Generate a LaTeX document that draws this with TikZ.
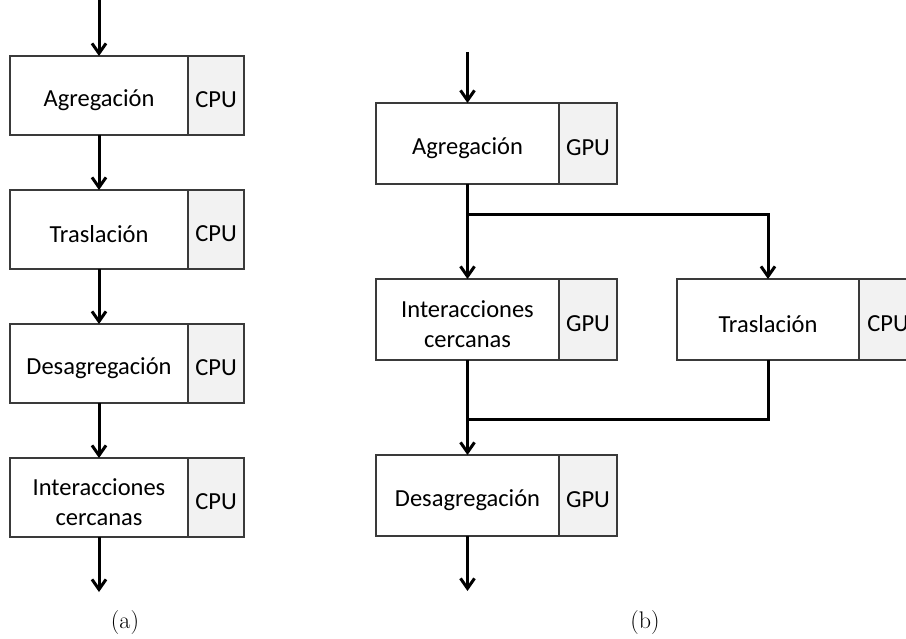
\documentclass[tikz,border=0pt]{standalone}
\usepackage{fontspec}
\newfontfamily\boxfont{Carlito}
\usetikzlibrary{arrows.meta}
\definecolor{tagfill}{HTML}{F2F2F2}
\definecolor{edge}{HTML}{3A3A3A}
\begin{document}
\begin{tikzpicture}[x=1pt,y=-1pt,
  boxtext/.style={align=center, inner sep=0pt, yshift=-4.5pt,
    font=\boxfont\fontsize{24.5}{30}\selectfont},
  stagebox/.style={draw=edge, line width=1.1pt, fill=white, outer sep=0pt,
    label={[boxtext]center:#1}},
  tagbox/.style={stagebox=#1, fill=tagfill, anchor=west},
  flow/.style={line width=3pt, -{Straight Barb[length=10pt,width=14pt,line width=3pt]}},
  link/.style={line width=3pt},
  caption/.style={font=\fontsize{24}{29}\selectfont}]
\useasboundingbox (0,0) rectangle (906,639);

% (a) sequential pipeline on the CPU
\begin{scope}[every node/.append style={minimum height=79pt}]
\node[stagebox=Agregación, minimum width=178pt] (a1) at (99,95.5) {};
\node[tagbox=CPU, minimum width=56pt] (a1t) at (a1.east) {};
\node[stagebox=Traslación, minimum width=178pt] (a2) at (99,229.5) {};
\node[tagbox=CPU, minimum width=56pt] (a2t) at (a2.east) {};
\node[stagebox=Desagregación, minimum width=178pt] (a3) at (99,363.5) {};
\node[tagbox=CPU, minimum width=56pt] (a3t) at (a3.east) {};
\node[stagebox={Interacciones\\cercanas}, minimum width=178pt] (a4) at (99,497.5) {};
\node[tagbox=CPU, minimum width=56pt] (a4t) at (a4.east) {};
\end{scope}
\coordinate (ain) at (99,0);
\coordinate (aout) at (99,592);
\draw[flow] (ain) -- (a1.north);
\draw[flow] (a1.south) -- (a2.north);
\draw[flow] (a2.south) -- (a3.north);
\draw[flow] (a3.south) -- (a4.north);
\draw[flow] (a4.south) -- (aout);
\node[caption] (capa) at (125,623) {(a)};

% (b) hybrid pipeline: translation on the CPU overlapped with near-field on the GPU
\begin{scope}[every node/.append style={minimum height=81pt}]
\node[stagebox=Agregación, minimum width=183pt] (b1) at (467.5,143.5) {};
\node[tagbox=GPU, minimum width=58pt] (b1t) at (b1.east) {};
\node[stagebox={Interacciones\\cercanas}, minimum width=183pt] (b2) at (467.5,319.5) {};
\node[tagbox=GPU, minimum width=58pt] (b2t) at (b2.east) {};
\node[stagebox=Traslación, minimum width=182pt] (b3) at (768,319.5) {};
\node[tagbox=CPU, minimum width=58pt] (b3t) at (b3.east) {};
\node[stagebox=Desagregación, minimum width=183pt] (b4) at (467.5,495.5) {};
\node[tagbox=GPU, minimum width=58pt] (b4t) at (b4.east) {};
\end{scope}
\coordinate (bin) at (467.5,52);
\coordinate (bout) at (467.5,591);
\coordinate (split) at (467.5,215);
\coordinate (merge) at (467.5,419);
\draw[flow] (bin) -- (b1.north);
\draw[flow] (b1.south) -- (b2.north);
\draw[flow] (split) -| (b3.north);
\draw[flow] (b2.south) -- (b4.north);
\draw[link] (b3.south) |- (merge);
\draw[flow] (b4.south) -- (bout);
\node[caption] (capb) at (645,623) {(b)};
\end{tikzpicture}
\end{document}
